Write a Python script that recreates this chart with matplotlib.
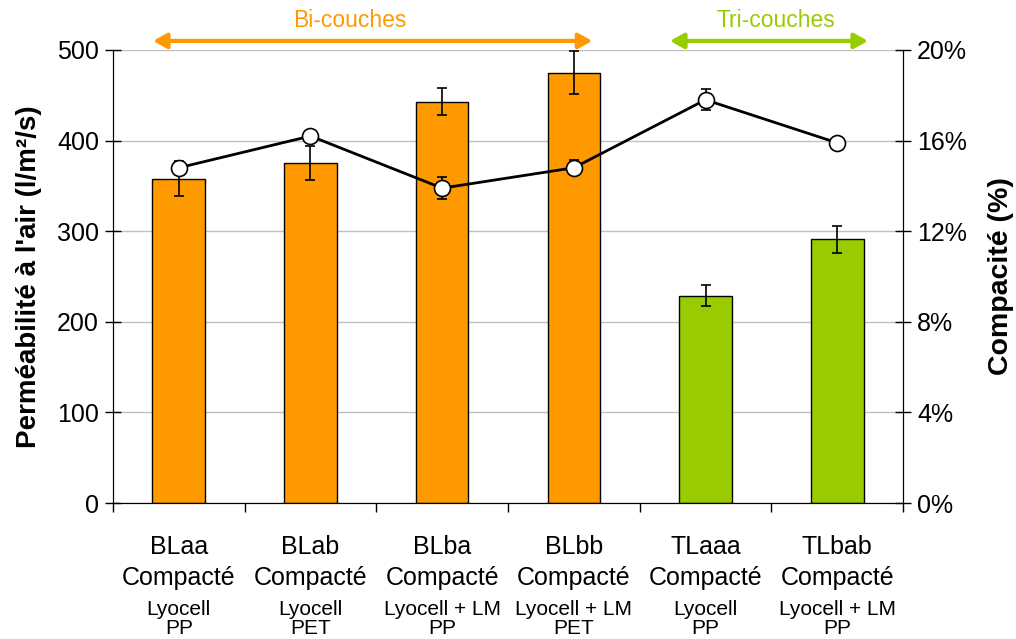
import matplotlib
matplotlib.use('Agg')
import matplotlib.pyplot as plt
from matplotlib.ticker import FuncFormatter

plt.rcParams['font.family'] = ['Liberation Sans', 'DejaVu Sans']

# samples
names = ['BLaa', 'BLab', 'BLba', 'BLbb', 'TLaaa', 'TLbab']
fibres = ['Lyocell', 'Lyocell', 'Lyocell + LM', 'Lyocell + LM', 'Lyocell', 'Lyocell + LM']
supports = ['PP', 'PET', 'PP', 'PET', 'PP', 'PP']

# air permeability (l/m2/s) and std dev
perm = [358, 375, 443, 475, 229, 291]
perm_err = [19, 19, 15, 24, 12, 15]

# compacity (%) and std dev
comp = [14.8, 16.2, 13.9, 14.8, 17.8, 15.9]
comp_err = [0.2, 0.2, 0.5, 0.33, 0.47, 0.2]

orange = '#FF9900'
green = '#99CC00'
colors = [orange] * 4 + [green] * 2

fig = plt.figure(figsize=(10.16, 6.39), dpi=100)
ax = fig.add_axes([0.1112, 0.2128, 0.7776, 0.7090])

x = list(range(len(names)))
ax.bar(x, perm, width=0.4, color=colors, edgecolor='black', linewidth=1, zorder=2)
ax.errorbar(x, perm, yerr=perm_err, fmt='none', ecolor='black', elinewidth=1.2,
            capsize=3.5, capthick=1.2, zorder=3)

ax.set_xlim(-0.5, 5.5)
ax.set_ylim(0, 500)
ax.set_yticks(range(0, 501, 100))
ax.yaxis.grid(True, color='#C0C0C0', linewidth=1)
ax.set_axisbelow(True)
ax.set_xticks([i - 0.5 for i in range(len(names) + 1)])
ax.set_xticklabels([])
ax.tick_params(axis='x', direction='out', length=6.5, width=1)
ax.tick_params(axis='y', direction='inout', length=12, width=1, labelsize=18, pad=4)
ax.spines['top'].set_visible(False)
ax.set_ylabel("Perméabilité à l'air (l/m²/s)", fontsize=20, fontweight='bold', labelpad=11)

# compacity on secondary axis
ax2 = ax.twinx()
ax2.errorbar(x, comp, yerr=comp_err, color='black', linewidth=2, marker='o', markersize=11.5,
             markerfacecolor='white', markeredgecolor='black', markeredgewidth=1.2,
             ecolor='black', elinewidth=1.2, capsize=3.5, capthick=1.2, zorder=4)
ax2.set_ylim(0, 20)
ax2.set_yticks(range(0, 21, 4))
ax2.yaxis.set_major_formatter(FuncFormatter(lambda v, p: '%d%%' % v))
ax2.tick_params(axis='y', direction='inout', length=12, width=1, labelsize=18, pad=4)
ax2.spines['top'].set_visible(False)
ax2.set_ylabel('Compacité (%)', fontsize=20.5, fontweight='bold', labelpad=15)

# category labels under the axis
tr = ax.get_xaxis_transform()
for i in x:
    ax.text(i, -0.1126, names[i], transform=tr, ha='center', va='baseline', fontsize=18)
    ax.text(i, -0.181, 'Compacté', transform=tr, ha='center', va='baseline', fontsize=18)
    ax.text(i, -0.2472, fibres[i], transform=tr, ha='center', va='baseline', fontsize=15)
    ax.text(i, -0.289, supports[i], transform=tr, ha='center', va='baseline', fontsize=15)

# group arrows
arrow = '<|-|>,head_length=0.45,head_width=0.25'
ax.annotate('', xy=(3.14, 1.02), xytext=(-0.196, 1.02), xycoords=tr, textcoords=tr,
            arrowprops=dict(arrowstyle=arrow, color=orange, lw=3, mutation_scale=18,
                            shrinkA=0, shrinkB=0), annotation_clip=False)
ax.text(1.30, 1.066, 'Bi-couches', transform=tr, ha='center', va='center', fontsize=16.5, color=orange)
ax.annotate('', xy=(5.234, 1.02), xytext=(3.73, 1.02), xycoords=tr, textcoords=tr,
            arrowprops=dict(arrowstyle=arrow, color=green, lw=3, mutation_scale=18,
                            shrinkA=0, shrinkB=0), annotation_clip=False)
ax.text(4.535, 1.066, 'Tri-couches', transform=tr, ha='center', va='center', fontsize=16.5, color=green)

plt.savefig('out.png', dpi=100)
